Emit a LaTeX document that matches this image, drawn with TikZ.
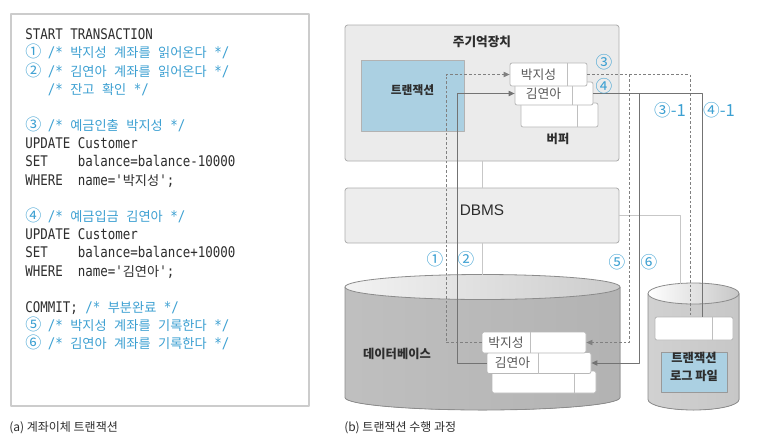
\documentclass[tikz,border=0pt]{standalone}
\usepackage{fontspec}
\newfontfamily\kr{Noto Sans CJK KR}
\newfontfamily\codefont[FakeStretch=0.85]{DejaVu Sans Mono}
\newfontfamily\lat{Liberation Sans}
\usetikzlibrary{arrows.meta,calc,fit,positioning}
\definecolor{cblue}{RGB}{60,160,210}
\definecolor{lblue}{RGB}{171,208,226}
\definecolor{ink}{RGB}{45,45,45}
\newcommand\ko[1]{{\kr\fontsize{9.9}{13.63}\selectfont#1}}
\newcommand\cn[1]{\makebox[11.26pt][l]{\kr\fontsize{12}{13.63}\selectfont#1}}
\newcommand\cm[1]{\textcolor{cblue}{#1}}
\tikzset{
 panel/.style={draw=black!32,fill=black!8,rounded corners=2pt,inner sep=0,line width=0.6pt},
 txbox/.style={draw=black!30,fill=lblue,inner sep=0,line width=0.6pt},
 rec/.style={draw=black!28,fill=white,rounded corners=1.5pt,inner sep=0,line width=0.6pt},
 rectxt/.style={font=\kr\fontsize{9.6}{10}\selectfont,text=black!65},
 lbl/.style={font=\kr\bfseries\fontsize{9.2}{13.5}\selectfont,text=ink},
 num/.style={font=\kr\fontsize{12.5}{14}\selectfont,text=cblue},
 link/.style={draw=black!22,line width=0.6pt},
 dline/.style={draw=black!50,dash pattern=on 2pt off 1.5pt,line width=0.6pt},
 sline/.style={draw=black!55,line width=0.7pt},
 tip/.style={-{Triangle[length=4.5pt,width=4pt]}},
}
\begin{document}
\begin{tikzpicture}[x=0.75pt,y=-0.75pt,line join=round]
\useasboundingbox (0,0) rectangle (761,440);
% (a) code
\node[draw=black!20,line width=0.8pt,fill=white,inner sep=0,fit={(11,14) (309,406)}] (codebox) {};
\node[anchor=north west,inner sep=0,align=left,text=ink,font=\codefont\fontsize{11}{13.63}\selectfont] (code) at (25,28.6) {START TRANSACTION\\
\cm{\cn{①} /* \ko{박지성} \ko{계좌를} \ko{읽어온다} */}\\
\cm{\cn{②} /* \ko{김연아} \ko{계좌를} \ko{읽어온다} */}\\
\hspace*{16.89pt}\cm{/* \ko{잔고} \ko{확인} */}\\[13.63pt]
\cm{\cn{③} /* \ko{예금인출} \ko{박지성} */}\\
UPDATE Customer\\
SET~~~~balance=balance-10000\\
WHERE~~name='\ko{박지성}';\\[13.63pt]
\cm{\cn{④} /* \ko{예금입금} \ko{김연아} */}\\
UPDATE Customer\\
SET~~~~balance=balance+10000\\
WHERE~~name='\ko{김연아}';\\[13.63pt]
COMMIT; \cm{/* \ko{부분완료} */}\\
\cm{\cn{⑤} /* \ko{박지성} \ko{계좌를} \ko{기록한다} */}\\
\cm{\cn{⑥} /* \ko{김연아} \ko{계좌를} \ko{기록한다} */}};
\node[anchor=west,inner sep=0,font=\kr\fontsize{9}{11}\selectfont,text=ink] (capa) at (9,428) {(a) 계좌이체 트랜잭션};
% (b) boxes
\node[panel,fit={(345,25) (619,161)}] (mem) {};
\node[lbl,font=\kr\bfseries\fontsize{9.5}{11}\selectfont] (memt) at (482,42) {주기억장치};
\node[txbox,lbl,font=\kr\bfseries\fontsize{8.8}{11}\selectfont,fit={(361,60) (464,131)}] (tx) {트랜잭션};
\node[lbl] (buft) at (558,139) {버퍼};
\node[panel,fill=black!7,fit={(345,188) (619,243)},font=\lat\fontsize{11.5}{13}\selectfont,text=ink] (dbms) {DBMS};
% cylinders
\fill[left color=black!25,middle color=black!8,right color=black!30] (345,287) -- (345,397.5) arc (180:0:137.5 and 12.5) -- (620,287) arc (0:180:137.5 and 12.5) -- cycle;
\draw[black!45,line width=0.6pt] (345,287) -- (345,397.5) arc (180:0:137.5 and 12.5) -- (620,287);
\draw[black!45,line width=0.6pt,left color=black!5,right color=black!20] (482.5,287) ellipse (137.5 and 12.5);
\fill[left color=black!18,middle color=black!3,right color=black!22] (648,293.5) -- (648,399.5) arc (180:0:45.5 and 10.5) -- (739,293.5) arc (0:180:45.5 and 10.5) -- cycle;
\draw[black!45,line width=0.6pt] (648,293.5) -- (648,399.5) arc (180:0:45.5 and 10.5) -- (739,293.5);
\draw[black!45,line width=0.6pt,left color=white,right color=black!22] (693.5,293.5) ellipse (45.5 and 10.5);
\node[lbl] (dbt) at (397,354) {데이터베이스};
\node[txbox,draw=black!40,lbl,align=center,fit={(661,352) (727,392)}] (logF) {트랜잭션\\로그 파일};
% records
\foreach \nm/\x/\y/\w/\h/\d/\t in {bufC/521/103/77/24/56/{},bufB/515/82/78/23/57/김연아,bufA/510/63/77/23/57/박지성,dbC/492/371/104/22/82/{},dbB/487/352.5/104/21/51/김연아,dbA/482/332/104/21/48/박지성,logR/655/317/78/23/57/{}}{
\node[rec,fit={(\x,\y) (\x+\w,\y+\h)}] (\nm) {};
\draw[black!25,line width=0.6pt] (\x+\d,\y) -- (\x+\d,\y+\h);
\node[rectxt] (\nm-t) at (\x+\d/2,\y+\h/2) {\t};
}
% connectors
\coordinate (x1) at (446,0); \coordinate (x2) at (457,0);
\coordinate (x5) at (629,0); \coordinate (x6) at (639,0);
\coordinate (x3) at (690,0); \coordinate (x4) at (702,0);
\coordinate (dbtop) at (482,275); \coordinate (logtop) at (680,283.5);
\draw[link] (mem.south) -- (dbms.north) (dbms.south) -- (dbtop);
\draw[link] (dbms.east) -| (logtop);
\draw[dline,tip] (dbA.west) -- (dbA.west -| x1) -- (bufA.west -| x1) -- (bufA.west);
\draw[sline,tip] (dbB.west) -- (dbB.west -| x2) -- (bufB.west -| x2) -- (bufB.west);
\draw[dline] (bufA.east) -- (bufA.east -| x3) -- (logR.north -| x3);
\draw[dline,tip] (bufA.east -| x5) -- (dbA.east -| x5) -- (dbA.east);
\draw[sline] (bufB.east) -- (bufB.east -| x4) -- (logR.north -| x4);
\draw[sline,tip] (bufB.east -| x6) -- (dbB.east -| x6) -- (dbB.east);
\foreach \nm/\x/\y/\t in {n1/435/259/①,n2/466/259/②,n3/604/62/③,n4/604/86/④,n5/617/262/⑤,n6/649/262/⑥,n31/670/110/③-1,n41/719/110/④-1}
\node[num] (\nm) at (\x,\y) {\t};
\node[anchor=west,inner sep=0,font=\kr\fontsize{9}{11}\selectfont,text=ink] (capb) at (344,428) {(b) 트랜잭션 수행 과정};
\end{tikzpicture}
\end{document}
